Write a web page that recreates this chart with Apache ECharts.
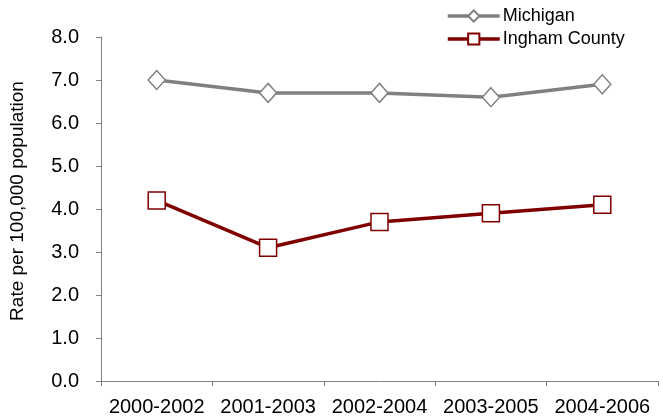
<!DOCTYPE html>
<html>
<head>
<meta charset="utf-8">
<script src="https://cdn.jsdelivr.net/npm/echarts@6/dist/echarts.min.js"></script>
<style>
  html, body { margin: 0; padding: 0; background: #fff; }
  #chart { width: 663px; height: 419px; }
</style>
</head>
<body>
<div id="chart"></div>
<script>
// Three-year rolling rates per 100,000 population
const periods = ['2000-2002', '2001-2003', '2002-2004', '2003-2005', '2004-2006'];
const michigan = [7.0, 6.7, 6.7, 6.6, 6.9];
const ingham = [4.2, 3.1, 3.7, 3.9, 4.1];

const FONT = '"Liberation Sans", Arial, sans-serif';
const chart = echarts.init(document.getElementById('chart'), null, { renderer: 'canvas' });

chart.setOption({
  animation: false,
  backgroundColor: '#ffffff',
  textStyle: { fontFamily: FONT, color: '#000' },
  legend: {
    orient: 'vertical',
    left: 441,
    top: 2,
    itemWidth: 52,
    itemHeight: 14,
    itemGap: 5,
    lineStyle: { width: 3.5 },
    textStyle: { fontFamily: FONT, fontSize: 18, color: '#000', padding: [0, 0, 0, -2] },
    data: ['Michigan', 'Ingham County']
  },
  grid: { left: 101, right: 5, top: 37, bottom: 38, containLabel: false },
  xAxis: {
    type: 'category',
    data: periods,
    boundaryGap: true,
    axisLine: { lineStyle: { color: '#808080', width: 1 } },
    axisTick: { show: true, length: 5, lineStyle: { color: '#808080' } },
    axisLabel: { interval: 0, fontFamily: FONT, fontSize: 20, color: '#000', margin: 16 },
    splitLine: { show: false }
  },
  yAxis: {
    type: 'value',
    min: 0,
    max: 8,
    interval: 1,
    name: 'Rate per 100,000 population',
    nameLocation: 'middle',
    nameGap: 74,
    nameTextStyle: { fontFamily: FONT, fontSize: 19, color: '#000', padding: [0, 0, 0, 16] },
    axisLine: { show: true, lineStyle: { color: '#808080', width: 1 } },
    axisTick: { show: true, length: 5, lineStyle: { color: '#808080' } },
    axisLabel: {
      fontFamily: FONT, fontSize: 20, color: '#000', margin: 22,
      formatter: v => v.toFixed(1)
    },
    splitLine: { show: false }
  },
  series: [
    {
      name: 'Michigan',
      type: 'line',
      data: michigan,
      symbol: 'diamond',
      symbolSize: [17, 19],
      lineStyle: { color: '#808080', width: 3.5 },
      itemStyle: { color: '#ffffff', borderColor: '#808080', borderWidth: 1.5 },
      emphasis: { disabled: true },
      z: 2
    },
    {
      name: 'Ingham County',
      type: 'line',
      data: ingham,
      symbol: 'rect',
      symbolSize: 17,
      lineStyle: { color: '#800000', width: 3.5 },
      itemStyle: { color: '#ffffff', borderColor: '#800000', borderWidth: 1.5 },
      emphasis: { disabled: true },
      z: 3
    }
  ]
});
</script>
</body>
</html>
